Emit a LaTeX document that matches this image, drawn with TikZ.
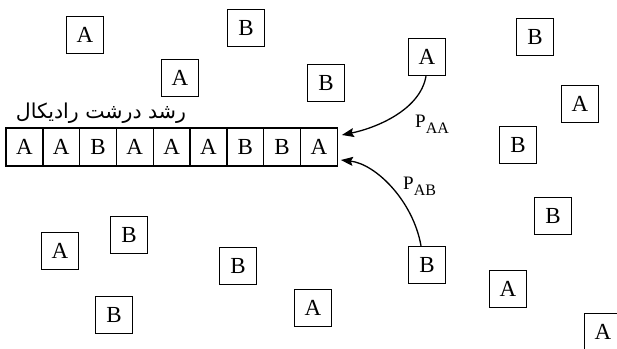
\documentclass[tikz,border=0pt]{standalone}
\usepackage{fontspec}
\setmainfont{Liberation Serif}
\newfontfamily\farsifont[Script=Arabic]{DejaVu Sans}
\TeXXeTstate=1
\usetikzlibrary{arrows.meta}

% lowered index for the probability labels
\newcommand\lowidx[1]{\raisebox{-6pt}{\fontsize{16}{16}\selectfont #1}}

\begin{document}
\begin{tikzpicture}[x=1pt,y=-1pt,
  unit/.style={draw,line width=1.4pt,minimum size=37pt,inner sep=0pt,
    font=\fontsize{23}{23}\selectfont},
  cell/.style={draw,line width=1.4pt,minimum width=36.8pt,minimum height=38pt,
    inner sep=0pt,font=\fontsize{23}{23}\selectfont},
  addarrow/.style={-{Stealth[length=12pt,width=9pt,inset=2pt]},line width=1.3pt},
  prob/.style={font=\fontsize{19}{19}\selectfont,inner sep=0pt,anchor=base west}]
\useasboundingbox (0,0) rectangle (617,348);
\clip (0,0) rectangle (617,348);

% the growing chain
\foreach \s [count=\i] in {A,A,B,A,A,A,B,B,A}
  \node[cell] (c\i) at ({6+36.8*(\i-0.5)},147) {\s};

\node[font=\farsifont\fontsize{20.5}{20.5}\selectfont,inner sep=0pt] (title)
  at (101,113) {\beginR رشد درشت رادیکال\endR};

% free monomers
\node[unit] (a1)  at (85,35)   {A};
\node[unit] (b2)  at (246,28)  {B};
\node[unit] (a3)  at (180,78)  {A};
\node[unit] (b4)  at (326,83)  {B};
\node[unit] (a5)  at (427,57)  {A};
\node[unit] (b6)  at (535,37)  {B};
\node[unit] (a7)  at (580,104) {A};
\node[unit] (b8)  at (518,145) {B};
\node[unit] (b9)  at (553,216) {B};
\node[unit] (a10) at (60,251)  {A};
\node[unit] (b11) at (129,235) {B};
\node[unit] (b12) at (238,266) {B};
\node[unit] (b13) at (114,315) {B};
\node[unit] (a14) at (313,308) {A};
\node[unit] (b15) at (427,265) {B};
\node[unit] (a16) at (508,289) {A};
\node[unit] (a17) at (603,332) {A};

% addition steps
\coordinate (tipAA) at ([shift={(4pt,12pt)}]c9.east);
\coordinate (tipAB) at ([shift={(3pt,-13pt)}]c9.east);
\draw[addarrow] ([xshift=-1pt]a5.south) .. controls +(-6,34) and +(34,-7) .. (tipAA);
\draw[addarrow] ([xshift=-6pt]b15.north) .. controls +(-8,-45) and +(35,4) .. (tipAB);

\node[prob] (pAA) at (415,127) {P\lowidx{AA}};
\node[prob] (pAB) at (403,189) {P\lowidx{AB}};
\end{tikzpicture}
\end{document}
